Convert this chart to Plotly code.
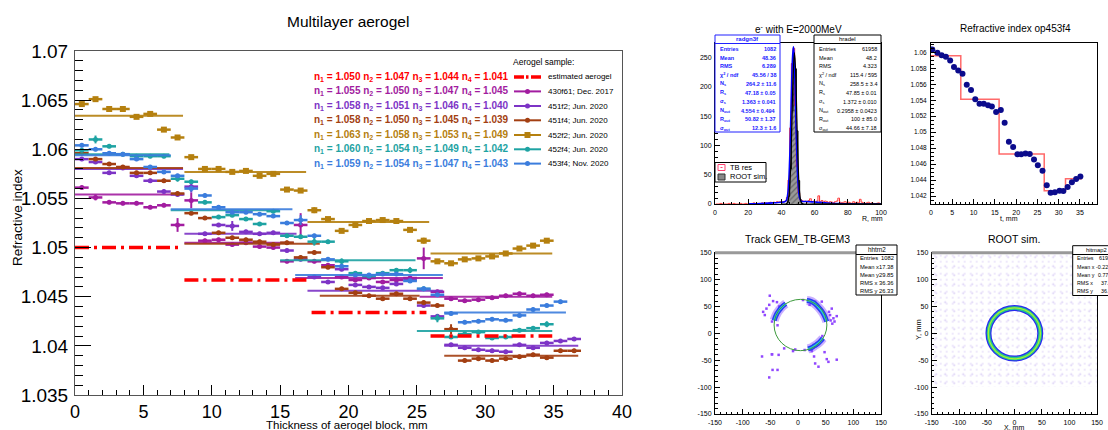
import plotly.graph_objects as go

W, H = 1108, 430
FONT = "Liberation Sans, Arial, Helvetica, sans-serif"


def px(x):
    return x / W


def py(y):
    return 1 - y / H


# ------------------------------------------------------------------ main chart data
pos_x = [0.5, 1.5, 2.5, 3.5, 4.5, 5.5, 6.5, 7.5, 8.5, 9.5, 10.5, 11.5, 12.5, 13.5, 14.5,
         15.5, 16.5, 17.5, 18.5, 19.5, 20.5, 21.5, 22.5, 23.5, 24.5, 25.5, 26.5, 27.5,
         28.5, 29.5, 30.5, 31.5, 32.5, 33.5, 34.5, 35.5, 36.5]

y_430f61 = [1.0561, 1.0551, 1.0546, 1.0545, 1.0545, 1.0541, 1.0543, 1.0523, 1.0548, 1.0507,
            1.0508, 1.0503, 1.0505, 1.0501, 1.0500, 1.0486, 1.0523, 1.0486, 1.0482, 1.0470,
            1.0467, 1.0469, 1.0465, 1.0467, 1.0469, 1.0489, 1.0455, 1.0448, 1.0446, 1.0447,
            1.0449, 1.0451, 1.0453, 1.0451, 1.0452]
e_430f61 = [0.0002, 0.0003, 0.0002, 0.0002, 0.0002, 0.0002, 0.0002, 0.0007, 0.0008, 0.0002,
            0.0002, 0.0002, 0.0002, 0.0002, 0.0002, 0.0002, 0.0012, 0.0002, 0.0002, 0.0002,
            0.0002, 0.0002, 0.0002, 0.0002, 0.0002, 0.0011, 0.0002, 0.0002, 0.0002, 0.0002,
            0.0002, 0.0002, 0.0002, 0.0002, 0.0002]

y_451f2 = [1.0590, 1.0587, 1.0576, 1.0581, 1.0573, 1.0568, 1.0557, 1.0554, 1.0562, 1.0514,
           1.0523, 1.0522, 1.0516, 1.0514, 1.0515, 1.0497, 1.0488, 1.0470, 1.0465, 1.0478,
           1.0462, 1.0460, 1.0459, 1.0463, 1.0467, 1.0441, 1.0430, 1.0401, 1.0398, 1.0396,
           1.0395, 1.0394, 1.0401, 1.0398, 1.0403, 1.0405, 1.0407]
e_451f2 = [0.0002, 0.0002, 0.0002, 0.0002, 0.0002, 0.0002, 0.0002, 0.0002, 0.0006, 0.0002,
           0.0002, 0.0005, 0.0002, 0.0002, 0.0002, 0.0002, 0.0002, 0.0002, 0.0002, 0.0002,
           0.0002, 0.0002, 0.0002, 0.0002, 0.0002, 0.0002, 0.0002, 0.0002, 0.0002, 0.0002,
           0.0002, 0.0002, 0.0002, 0.0002, 0.0002, 0.0002, 0.0002]

y_451f4 = [1.0596, 1.0590, 1.0585, 1.0582, 1.0576, 1.0576, 1.0568, 1.0555, 1.0535, 1.0530,
           1.0515, 1.0510, 1.0508, 1.0506, 1.0503, 1.0505, 1.0490, 1.0495, 1.0480, 1.0458,
           1.0454, 1.0451, 1.0448, 1.0453, 1.0448, 1.0444, 1.0441, 1.0417, 1.0385, 1.0387,
           1.0385, 1.0387, 1.0389, 1.0391, 1.0388, 1.0395, 1.0395]
e_451f4 = [0.0002, 0.0002, 0.0002, 0.0002, 0.0002, 0.0002, 0.0002, 0.0002, 0.0002, 0.0002,
           0.0002, 0.0002, 0.0002, 0.0002, 0.0002, 0.0002, 0.0002, 0.0002, 0.0002, 0.0002,
           0.0002, 0.0002, 0.0002, 0.0002, 0.0002, 0.0002, 0.0002, 0.0005, 0.0002, 0.0002,
           0.0002, 0.0002, 0.0002, 0.0002, 0.0002, 0.0002, 0.0002]

y_452f2 = [1.0646, 1.0651, 1.0641, 1.0641, 1.0633, 1.0636, 1.0620, 1.0612, 1.0592, 1.0580,
           1.0580, 1.0577, 1.0578, 1.0573, 1.0575, 1.0559, 1.0558, 1.0538, 1.0529, 1.0517,
           1.0523, 1.0527, 1.0528, 1.0527, 1.0518, 1.0507, 1.0486, 1.0484, 1.0488, 1.0489,
           1.0491, 1.0494, 1.0499, 1.0502, 1.0507]
e_452f2 = [0.0002, 0.0002, 0.0003, 0.0002, 0.0002, 0.0002, 0.0002, 0.0002, 0.0002, 0.0002,
           0.0002, 0.0002, 0.0002, 0.0002, 0.0002, 0.0002, 0.0002, 0.0003, 0.0002, 0.0002,
           0.0002, 0.0002, 0.0002, 0.0002, 0.0002, 0.0003, 0.0002, 0.0002, 0.0002, 0.0002,
           0.0002, 0.0002, 0.0002, 0.0002, 0.0002]

y_452f4 = [1.0599, 1.0610, 1.0603, 1.0595, 1.0593, 1.0593, 1.0593, 1.0570, 1.0567, 1.0546,
           1.0531, 1.0533, 1.0529, 1.0524, 1.0537, 1.0512, 1.0511, 1.0506, 1.0506, 1.0486,
           1.0474, 1.0471, 1.0474, 1.0477, 1.0477, 1.0458, 1.0428, 1.0409, 1.0412, 1.0414,
           1.0408, 1.0409, 1.0416, 1.0418, 1.0422]
e_452f4 = [0.0002, 0.0004, 0.0002, 0.0002, 0.0002, 0.0002, 0.0002, 0.0003, 0.0002, 0.0002,
           0.0002, 0.0002, 0.0002, 0.0002, 0.0002, 0.0002, 0.0002, 0.0004, 0.0002, 0.0003,
           0.0002, 0.0002, 0.0002, 0.0002, 0.0003, 0.0002, 0.0004, 0.0002, 0.0002, 0.0002,
           0.0002, 0.0002, 0.0002, 0.0002, 0.0003]

y_453f4 = [1.0604, 1.0600, 1.0596, 1.0595, 1.0590, 1.0582, 1.0577, 1.0573, 1.0560, 1.0553,
           1.0541, 1.0536, 1.0536, 1.0534, 1.0532, 1.0525, 1.0528, 1.0512, 1.0488, 1.0481,
           1.0472, 1.0472, 1.0473, 1.0473, 1.0466, 1.0458, 1.0452, 1.0433, 1.0424, 1.0425,
           1.0427, 1.0426, 1.0431, 1.0437, 1.0441, 1.0445]
e_453f4 = [0.0002, 0.0002, 0.0002, 0.0002, 0.0002, 0.0002, 0.0002, 0.0002, 0.0003, 0.0002,
           0.0002, 0.0002, 0.0002, 0.0002, 0.0002, 0.0002, 0.0005, 0.0002, 0.0002, 0.0002,
           0.0002, 0.0002, 0.0002, 0.0002, 0.0002, 0.0002, 0.0002, 0.0002, 0.0002, 0.0002,
           0.0002, 0.0002, 0.0002, 0.0002, 0.0002, 0.0002]

# fitted layer values (start, end, value) per sample
fit_430f61_start = [0.0, 8.0, 16.1, 25.2]
fit_430f61_end = [7.9, 16.0, 26.9, 34.9]
fit_430f61_val = [1.0554, 1.0505, 1.0469, 1.0450]
fit_451f2_start = [0.0, 8.0, 17.0, 27.0]
fit_451f2_end = [7.9, 16.2, 26.9, 36.8]
fit_451f2_val = [1.0580, 1.0514, 1.0456, 1.0400]
fit_451f4_start = [0.0, 8.0, 17.9, 27.0]
fit_451f4_end = [7.9, 17.9, 25.2, 36.8]
fit_451f4_val = [1.0581, 1.0504, 1.0451, 1.0390]
fit_452f2_start = [0.0, 8.0, 17.0, 26.0]
fit_452f2_end = [7.9, 16.9, 25.9, 34.9]
fit_452f2_val = [1.0634, 1.0577, 1.0526, 1.0494]
fit_452f4_start = [0.0, 7.0, 15.0, 25.0]
fit_452f4_end = [6.9, 14.9, 24.9, 34.9]
fit_452f4_val = [1.0595, 1.0538, 1.0487, 1.0415]
fit_453f4_start = [0.0, 7.0, 16.1, 27.0]
fit_453f4_end = [7.0, 15.9, 26.9, 35.9]
fit_453f4_val = [1.0594, 1.0539, 1.0472, 1.0434]

est_start = [0.0, 8.0, 17.3, 26.0]
est_end = [7.8, 17.2, 25.7, 34.9]
est_val = [1.0500, 1.0467, 1.0434, 1.0410]

legend_labels = ["estimated aerogel", "430f61; Dec. 2017", "451f2; Jun. 2020", "451f4; Jun. 2020",
                 "452f2; Jun. 2020", "452f4; Jun. 2020", "453f4; Nov. 2020"]
legend_n = [[1.050, 1.047, 1.044, 1.041], [1.055, 1.050, 1.047, 1.045],
            [1.058, 1.051, 1.046, 1.040], [1.058, 1.050, 1.045, 1.039],
            [1.063, 1.058, 1.053, 1.049], [1.060, 1.054, 1.049, 1.042],
            [1.059, 1.054, 1.047, 1.043]]

main_xticks = [0, 5, 10, 15, 20, 25, 30, 35, 40]
main_yticks = [1.035, 1.04, 1.045, 1.05, 1.055, 1.06, 1.065, 1.07]
main_yticktext = ["1.035", "1.04", "1.045", "1.05", "1.055", "1.06", "1.065", "1.07"]

# ------------------------------------------------------------------ panel A (histogram)
hist_counts_tb = [0, 0, 0, 1, 0, 0, 0, 0, 1, 0,
                  0, 1, 0, 0, 0, 1, 0, 0, 1, 0,
                  1, 0, 1, 2, 0, 1, 1, 0, 2, 1,
                  2, 1, 2, 3, 2, 3, 2, 4, 3, 4,
                  3, 4, 5, 11, 41, 130, 240, 266, 168, 64,
                  19, 7, 6, 4, 5, 3, 6, 9, 4, 5,
                  3, 5, 14, 4, 6, 3, 5, 4, 2, 4,
                  3, 2, 4, 5, 10, 3, 2, 3, 4, 2,
                  3, 2, 1, 4, 2, 3, 2, 8, 3, 2,
                  1, 2, 3, 1, 2, 1, 0, 1, 2, 1]
sim_centers = [43.5, 44.5, 45.5, 46.5, 47.5, 48.5, 49.5, 50.5, 51.5, 52.5]
sim_counts = [1.7, 13.2, 59.6, 159, 250, 231, 125, 40, 7.5, 1.0]
fit_tb_x = [20, 25, 30, 35, 40, 42, 43, 44, 45, 46, 46.5, 47.18, 47.5, 48, 48.5, 49, 50, 51,
            52, 55, 60, 65, 70, 75, 80, 90, 100]
fit_tb_y = [0.2, 0.5, 1.1, 2.0, 3.1, 3.7, 6.1, 21.3, 77.5, 185.6, 237.4, 268.4, 261.2, 224.9,
            169.7, 112.8, 35.6, 9.8, 5.0, 4.3, 3.4, 2.3, 1.4, 0.7, 0.3, 0.0, 0.0]
fit_sim_x = [40, 43, 44, 45, 46, 46.5, 47, 47.85, 48.5, 49, 50, 51, 52, 53, 60, 80, 100]
fit_sim_y = [0.2, 0.5, 5.0, 29.9, 104.2, 159.3, 213.4, 258.5, 231.0, 181.9, 75.7, 18.5, 2.7,
             0.4, 0.2, 0.2, 0.3]
stat_labels = ["Entries", "Mean", "RMS", "χ<sup>2</sup> / ndf", "N<sub>s</sub>", "R<sub>s</sub>",
               "σ<sub>s</sub>", "N<sub>out</sub>", "R<sub>out</sub>", "σ<sub>out</sub>"]
stat_tb = ["1082", "48.36", "6.289", "45.56 / 38", "264.2 ± 11.6", "47.18 ± 0.05",
           "1.363 ± 0.041", "4.554 ± 0.494", "50.82 ± 1.37", "12.3 ± 1.6"]
stat_sim = ["61958", "48.2", "4.323", "115.4 / 595", "258.5 ± 3.4", "47.85 ± 0.01",
            "1.372 ± 0.010", "0.2958 ± 0.0423", "100 ± 85.0", "44.66 ± 7.18"]

# ------------------------------------------------------------------ panel B (refractive index op453f4)
op_x = [0.3, 1.5, 2.5, 3.5, 4.5, 5.4, 6.4, 7.4, 8.4, 9.4, 10.4, 11.4, 12.4, 13.4, 14.3, 15.3,
        16.4, 17.3, 18.3, 19.3, 20.3, 21.2, 22.2, 23.2, 24.2, 25.1, 26.2, 27.2, 28.1, 29.1,
        30.2, 31.1, 32.1, 33.1, 34.1, 35.1]
op_y = [1.06037, 1.05995, 1.05962, 1.05945, 1.05899, 1.05816, 1.05774, 1.05732, 1.05595,
        1.05528, 1.05411, 1.05357, 1.05357, 1.05336, 1.05323, 1.05252, 1.05277, 1.05119,
        1.04881, 1.04814, 1.04722, 1.04722, 1.04734, 1.04726, 1.04659, 1.04584, 1.04517,
        1.04334, 1.04242, 1.04246, 1.04267, 1.04263, 1.04313, 1.04371, 1.04413, 1.04446]
op_err = [0.0001, 0.0001, 0.0001, 0.0001, 0.0002, 0.0001, 0.0002, 0.0002, 0.0001, 0.0001,
          0.0001, 0.0001, 0.0001, 0.0001, 0.0001, 0.0001, 0.0003, 0.0001, 0.0001, 0.0001,
          0.0001, 0.0001, 0.0001, 0.0001, 0.0001, 0.0001, 0.0001, 0.0001, 0.0001, 0.0001,
          0.0001, 0.0001, 0.0001, 0.0001, 0.0001, 0.0001]
step_edges = [0.0, 7.0, 16.0, 26.6, 31.6, 35.5]
step_levels = [1.05957, 1.05411, 1.04726, 1.04267, 1.04417]
op_yticks = [1.042, 1.044, 1.046, 1.048, 1.05, 1.052, 1.054, 1.056, 1.058, 1.06]
op_yticktext = ["1.042", "1.044", "1.046", "1.048", "1.05", "1.052", "1.054", "1.056", "1.058", "1.06"]

# ------------------------------------------------------------------ panel C (track hits)
ring_fit_center = (4.5, 15.5)
ring_fit_radius = 47.7
arc1_x = [-43, -41, -38, -34, -30, -26, -22]
arc1_y = [24, 30, 37, 43, 48, 52, 55]
arc2_x = [16, 22, 28, 34, 40, 45, 49, 52]
arc2_y = [61, 60, 57, 52, 45, 38, 30, 22]
arc3_x = [18, 24, 30, 36, 41, 45]
arc3_y = [-29, -27, -23, -19, -14, -9]
hits_x = [-63, -60, -57, -52, -51, -47, -45, -38, -34, -37, -47, -65, -47, -35, -46, -37, -52,
          -9, -5, 9, 21, 31, 43, 58, 61, 64, 56, 66, 70, 59, 62, 29, 31, 37, 52, 55, 70, 25,
          12, 44, 48, -25]
hits_y = [40, 34, 46, 53, 70, 22, 60, 58, 50, 15, -39, -43, -39, -40, -68, -68, -82, -33, -30,
          62, 53, 59, 59, 34, 46, 28, 40, 22, 32, 24, 18, -43, -56, -62, -48, -53, -49, -33,
          -31, -5, -35, -28]
hh_labels = ["Entries", "Mean x", "Mean y", "RMS x", "RMS y"]
hh_values = ["1082", "17.38", "29.85", "36.36", "26.33"]

# ------------------------------------------------------------------ panel D (ROOT sim.)
sim_ring_center = (0.0, 0.0)
sim_ring_radius = 47.0
noise_x = [0.0]
noise_top = [150.0]
noise_bottom = [-100.0]
noise_width = [300.0]
hm_values = ["61958", "-0.2294", "0.7726", "37.01", "36.47"]
xy_ticks = [-150, -100, -50, 0, 50, 100, 150]

# ------------------------------------------------------------------ colours
C_RED = "#ff0000"
C_430 = "#a21ca0"
C_451F2 = "#7d34c6"
C_451F4 = "#a33f12"
C_452F2 = "#b5800f"
C_452F4 = "#1ea3a3"
C_453 = "#3b7ddd"

fig = go.Figure()

# ------------------------------------------------------------------ main chart traces
series = [
    (y_430f61, e_430f61, C_430, "circle", fit_430f61_start, fit_430f61_end, fit_430f61_val),
    (y_451f2, e_451f2, C_451F2, "circle", fit_451f2_start, fit_451f2_end, fit_451f2_val),
    (y_451f4, e_451f4, C_451F4, "circle", fit_451f4_start, fit_451f4_end, fit_451f4_val),
    (y_452f2, e_452f2, C_452F2, "square", fit_452f2_start, fit_452f2_end, fit_452f2_val),
    (y_452f4, e_452f4, C_452F4, "circle", fit_452f4_start, fit_452f4_end, fit_452f4_val),
    (y_453f4, e_453f4, C_453, "circle", fit_453f4_start, fit_453f4_end, fit_453f4_val),
]
for yv, ev, col, sym, fs, fe, fv in series:
    fx, fy = [], []
    for s, e, v in zip(fs, fe, fv):
        fx += [s, e, None]
        fy += [v, v, None]
    fig.add_trace(go.Scatter(x=fx, y=fy, mode="lines", line=dict(color=col, width=2),
                             xaxis="x", yaxis="y", hoverinfo="skip", opacity=0.9))
    fig.add_trace(go.Scatter(
        x=pos_x[:len(yv)], y=yv, mode="markers", xaxis="x", yaxis="y",
        marker=dict(color=col, size=6 if sym == "square" else 5, symbol=sym),
        error_x=dict(type="constant", value=0.5, color=col, thickness=2.5, width=0),
        error_y=dict(type="data", array=ev, color=col, thickness=2, width=0)))

ex, ey = [], []
for s, e, v in zip(est_start, est_end, est_val):
    ex += [s, e, None]
    ey += [v, v, None]
fig.add_trace(go.Scatter(x=ex, y=ey, mode="lines", xaxis="x", yaxis="y",
                         line=dict(color=C_RED, width=3.5, dash="14px,5px,3px,5px")))

# ------------------------------------------------------------------ panel A traces
bin_centers = [i + 0.5 for i in range(len(hist_counts_tb))]
fig.add_trace(go.Bar(x=sim_centers, y=sim_counts, width=1, xaxis="x2", yaxis="y2",
                     marker=dict(color="#9a9a9a", line=dict(width=0),
                                 pattern=dict(shape="/", fgcolor="#333333", size=4,
                                              solidity=0.3, fillmode="overlay"))))
fig.add_trace(go.Scatter(x=sim_centers, y=sim_counts, mode="lines", line_shape="hvh",
                         line=dict(color="black", width=1), xaxis="x2", yaxis="y2"))
fig.add_trace(go.Scatter(x=bin_centers, y=hist_counts_tb, mode="lines", line_shape="hvh",
                         line=dict(color="#ff3030", width=1), xaxis="x2", yaxis="y2"))
fig.add_trace(go.Scatter(x=fit_tb_x, y=fit_tb_y, mode="lines", line_shape="spline",
                         line=dict(color="#0000ff", width=1.6), xaxis="x2", yaxis="y2"))
fig.add_trace(go.Scatter(x=fit_sim_x, y=fit_sim_y, mode="lines", line_shape="spline",
                         line=dict(color="black", width=1.2), xaxis="x2", yaxis="y2"))

# ------------------------------------------------------------------ panel B traces
step_y = step_levels + [step_levels[-1]]
fig.add_trace(go.Scatter(x=step_edges, y=step_y, mode="lines", line_shape="hv",
                         line=dict(color="#ff6a6a", width=1.5), xaxis="x3", yaxis="y3"))
fig.add_trace(go.Scatter(x=op_x, y=op_y, mode="markers", xaxis="x3", yaxis="y3",
                         marker=dict(color="#0b0b8c", size=6),
                         error_y=dict(type="data", array=op_err, color="#0b0b8c",
                                      thickness=1, width=0)))

# ------------------------------------------------------------------ panel C traces
fig.add_trace(go.Scatter(x=hits_x, y=hits_y, mode="markers", xaxis="x4", yaxis="y4",
                         marker=dict(color="#9147ff", size=2.5, symbol="square")))
for ax_, ay_ in [(arc1_x, arc1_y), (arc2_x, arc2_y), (arc3_x, arc3_y)]:
    fig.add_trace(go.Scatter(x=ax_, y=ay_, mode="lines", line_shape="spline",
                             line=dict(color="#8a4dff", width=9), opacity=0.45,
                             xaxis="x4", yaxis="y4"))
    fig.add_trace(go.Scatter(x=ax_, y=ay_, mode="lines", line_shape="spline",
                             line=dict(color="#2a3cf0", width=5), xaxis="x4", yaxis="y4"))
    fig.add_trace(go.Scatter(x=ax_, y=ay_, mode="lines", line_shape="spline",
                             line=dict(color="#26c6e0", width=2), xaxis="x4", yaxis="y4"))

# ------------------------------------------------------------------ panel D traces
for size, sol, col in [(6, 0.05, "#a98be8"), (9, 0.04, "#b49be9")]:
    fig.add_trace(go.Bar(x=noise_x, y=[noise_top[0] - noise_bottom[0]], base=noise_bottom,
                         width=noise_width, xaxis="x5", yaxis="y5",
                         marker=dict(color="rgba(0,0,0,0)", line=dict(width=0),
                                     pattern=dict(shape=".", fgcolor=col, size=size,
                                                  solidity=sol, fillmode="overlay"))))

shapes = []
annotations = []


def ann(text, x, y, size, color="black", xanchor="center", yanchor="middle", family=FONT,
        angle=0):
    annotations.append(dict(text=text, x=px(x), y=py(y), xref="paper", yref="paper",
                            showarrow=False, xanchor=xanchor, yanchor=yanchor,
                            textangle=angle, font=dict(size=size, color=color, family=family)))


def rect(x0, y0, x1, y1, line="black", width=1, fill="white"):
    shapes.append(dict(type="rect", xref="paper", yref="paper", x0=px(x0), x1=px(x1),
                       y0=py(y1), y1=py(y0), line=dict(color=line, width=width),
                       fillcolor=fill, layer="above"))


def hline(x0, x1, y, color, width, dash="solid"):
    shapes.append(dict(type="line", xref="paper", yref="paper", x0=px(x0), x1=px(x1),
                       y0=py(y), y1=py(y), line=dict(color=color, width=width, dash=dash),
                       layer="above"))


# ring shapes in data coordinates
cx, cy = ring_fit_center
shapes.append(dict(type="circle", xref="x4", yref="y4", x0=cx - ring_fit_radius,
                   x1=cx + ring_fit_radius, y0=cy - ring_fit_radius, y1=cy + ring_fit_radius,
                   line=dict(color="#3c9a3c", width=1), layer="above"))
sx, sy = sim_ring_center
for w, col, dr in [(6, "#2a2af0", 0), (3.5, "#22cc88", 0), (1.2, "#b0ee30", 0.3)]:
    r = sim_ring_radius + dr
    shapes.append(dict(type="circle", xref="x5", yref="y5", x0=sx - r, x1=sx + r,
                       y0=sy - r, y1=sy + r, line=dict(color=col, width=w), layer="above"))

# ------------------------------------------------------------------ main chart texts & legend
ann("Multilayer aerogel", 348, 21, 15.5)
ann("Thickness of aerogel block, mm", 347, 425, 11.5)
ann("Refractive index", 17, 218, 13.5, angle=-90)
ann("Aerogel sample:", 543, 62, 8.5)
row_y = [77, 91.4, 106, 120.3, 135, 149.3, 163.6]
legend_cols = [C_RED, C_430, C_451F2, C_451F4, C_452F2, C_452F4, C_453]
for i, (lab, nv, col, yy) in enumerate(zip(legend_labels, legend_n, legend_cols, row_y)):
    txt = " ".join(f"n<sub>{k + 1}</sub> = {v:.3f}" for k, v in enumerate(nv))
    ann(f"<b>{txt}</b>", 511, yy, 10, color=col, xanchor="right")
    ann(lab, 546, yy, 8, xanchor="left")
    if i == 0:
        hline(514, 524, yy, C_RED, 3.5)
        hline(526, 528.5, yy, C_RED, 3.5)
        hline(531, 541, yy, C_RED, 3.5)
    else:
        hline(514, 541, yy, col, 2)
        if col == C_452F2:
            shapes.append(dict(type="rect", xref="paper", yref="paper", x0=px(524.5),
                               x1=px(530.5), y0=py(yy + 3), y1=py(yy - 3), fillcolor=col,
                               line=dict(width=0), layer="above"))
        else:
            shapes.append(dict(type="circle", xref="paper", yref="paper", x0=px(525),
                               x1=px(530), y0=py(yy + 2.5), y1=py(yy - 2.5), fillcolor=col,
                               line=dict(width=0), layer="above"))

# ------------------------------------------------------------------ panel A texts
ann("e<sup>-</sup> with E=2000MeV", 798, 29, 10)
ann("R, mm", 872, 218, 7)
stat_row_y = [49, 57.7, 66.3, 75, 84, 93, 101.7, 110.7, 119.3, 128]


def statbox(x0, x1, y0, y1, header, hy, liney, labels, values, rows, color, size,
            lx, vx):
    rect(x0, y0, x1, y1, line=color, width=1)
    hline(x0, x1, liney, color, 1)
    ann(f"<b>{header}</b>" if color != "black" else header, (x0 + x1) / 2, hy, size + 0.5,
        color=color)
    for lab, val, yy in zip(labels, values, rows):
        t1 = f"<b>{lab}</b>" if color != "black" else lab
        t2 = f"<b>{val}</b>" if color != "black" else val
        ann(t1, lx, yy, size, color=color, xanchor="left")
        ann(t2, vx, yy, size, color=color, xanchor="right")


statbox(715, 780, 35, 132, "radgn3f", 39, 43.5, stat_labels, stat_tb, stat_row_y, "#2020ff",
        5.5, 718, 778)
statbox(814, 881, 35, 132, "hradel", 39, 43.5, stat_labels, stat_sim, stat_row_y, "black",
        5.5, 817, 879)
# histogram legend
rect(715, 162.5, 766, 182, line="black", width=1)
shapes.append(dict(type="rect", xref="paper", yref="paper", x0=px(718), x1=px(725),
                   y0=py(170.5), y1=py(164.5), line=dict(color="#ff4070", width=1),
                   fillcolor="white", layer="above"))
hline(720.5, 722.5, 167.5, "#ff4070", 1)
shapes.append(dict(type="rect", xref="paper", yref="paper", x0=px(718), x1=px(725),
                   y0=py(180), y1=py(174), line=dict(color="#333", width=1),
                   fillcolor="#888888", layer="above"))
ann("TB res", 728, 167.5, 7.5, xanchor="left")
ann("ROOT sim.", 728, 177, 7.5, xanchor="left")

# ------------------------------------------------------------------ panel B texts
ann("Refractive index op453f4", 1015, 29, 10)
ann("t, mm", 1009, 218, 7)

# ------------------------------------------------------------------ panel C/D texts
ann("Track GEM_TB-GEM3", 797, 239, 10.5)
ann("ROOT sim.", 1014, 239, 10.5)
ann("Y, mm", 918, 330, 7.5, angle=-90)
ann("X, mm", 1014, 427, 7)
hh_rows = [258.3, 266.7, 275, 283.3, 291.3]
hline(715, 881, 252.7, "#999999", 3)
hline(931.7, 1097, 252.7, "#999999", 3)
statbox(856, 897, 245, 295, "hhtrn2", 249.5, 254.5, hh_labels, hh_values, hh_rows, "black",
        5.8, 858, 895.5)
statbox(1072.7, 1120, 245.7, 295.5, "hitmap2", 249.5, 254.5, hh_labels, hm_values, hh_rows,
        "black", 5.3, 1074.5, 1116)


# ------------------------------------------------------------------ axes
def axis(domain, rng, tickvals, ticktext, size, ticklen, minor_dtick, minor_len,
         anchor, standoff=2, linecolor="black"):
    d = dict(domain=domain, range=rng, tickmode="array", tickvals=tickvals, ticktext=ticktext,
             ticks="inside", ticklen=ticklen, tickwidth=1, tickcolor="black", showline=True,
             linecolor=linecolor, linewidth=1, mirror=True, showgrid=False, zeroline=False,
             tickfont=dict(size=size, family=FONT, color="black"), anchor=anchor,
             fixedrange=True, ticklabelstandoff=standoff, automargin=False)
    if minor_dtick:
        d["minor"] = dict(dtick=minor_dtick, tick0=rng[0], ticklen=minor_len, ticks="inside",
                          tickcolor="black", tickwidth=1, showgrid=False)
    return d


fig.update_layout(
    template="none",
    width=W, height=H, margin=dict(l=0, r=0, t=0, b=0, pad=0),
    paper_bgcolor="white", plot_bgcolor="white", showlegend=False,
    shapes=shapes, annotations=annotations, barmode="overlay",
    xaxis=axis([px(75), px(622)], [0, 40], main_xticks, [str(v) for v in main_xticks], 18,
               10, 1, 5, "y", 0, "#555555"),
    yaxis=axis([py(395), py(51)], [1.035, 1.07], main_yticks, main_yticktext, 19, 16, 0.001,
               8, "x", 2, "#555555"),
    xaxis2=axis([px(715), px(881)], [0, 100], [0, 20, 40, 60, 80, 100],
                ["0", "20", "40", "60", "80", "100"], 7, 5, 5, 2.5, "y2"),
    yaxis2=axis([py(204), py(43)], [0, 275], [0, 50, 100, 150, 200, 250],
                ["0", "50", "100", "150", "200", "250"], 7, 5, 10, 2.5, "x2", 1),
    xaxis3=axis([px(931), px(1097)], [0, 39], [0, 5, 10, 15, 20, 25, 30, 35],
                ["0", "5", "10", "15", "20", "25", "30", "35"], 7, 5, 1, 2.5, "y3"),
    yaxis3=axis([py(204), py(43)], [1.041, 1.06117], op_yticks, op_yticktext, 6.5, 5, 0.0005,
                2.5, "x3", 2),
    xaxis4=axis([px(715), px(881)], [-150, 150], xy_ticks, [str(v) for v in xy_ticks], 7, 5,
                10, 2.5, "y4"),
    yaxis4=axis([py(414), py(252.7)], [-150, 150], xy_ticks, [str(v) for v in xy_ticks], 7, 5,
                10, 2.5, "x4", 1),
    xaxis5=axis([px(931.7), px(1097)], [-150, 150], xy_ticks, [str(v) for v in xy_ticks], 7,
                5, 10, 2.5, "y5"),
    yaxis5=axis([py(414), py(252.7)], [-150, 150], xy_ticks, [str(v) for v in xy_ticks], 7, 5,
                10, 2.5, "x5", 1),
)

fig.write_html("out.html", config={"displayModeBar": False},
               post_script="document.body.style.margin='0';"
                           "document.body.style.overflow='hidden';")
